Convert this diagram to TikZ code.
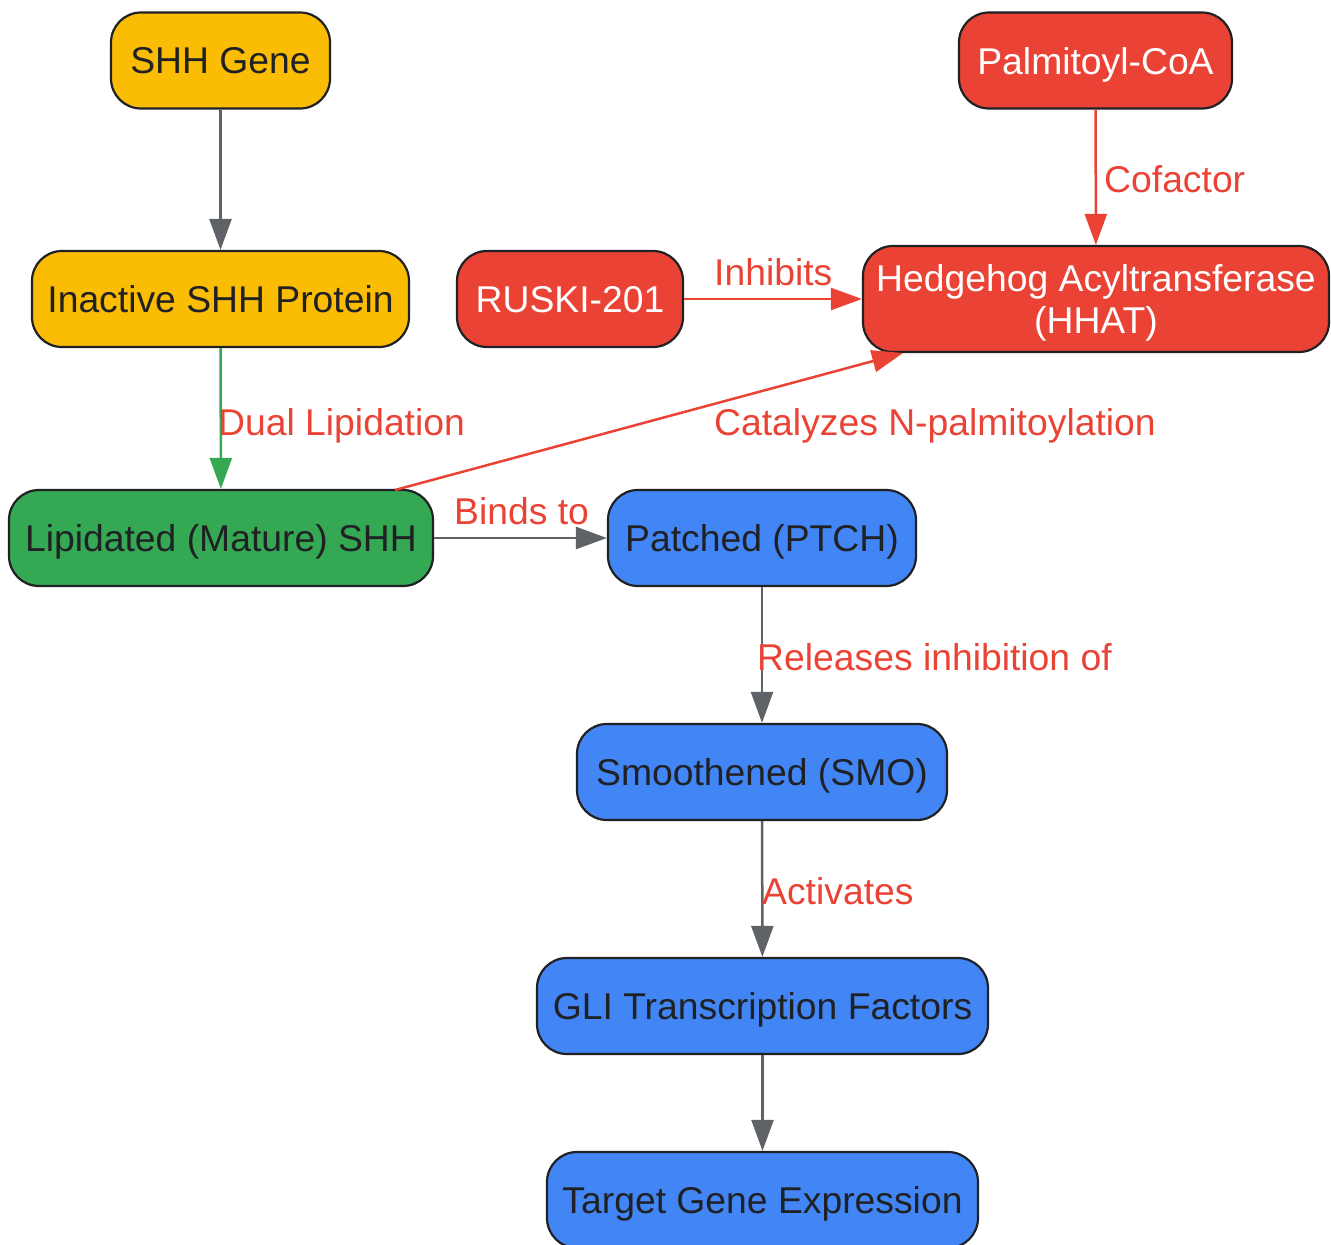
\documentclass[tikz,border=0pt]{standalone}
\usepackage{fontspec}
\setmainfont{Liberation Sans}
\usetikzlibrary{arrows.meta}
\definecolor{cyel}{HTML}{FBBC04}
\definecolor{cred}{HTML}{EA4335}
\definecolor{cgrn}{HTML}{34A853}
\definecolor{cblu}{HTML}{4285F4}
\definecolor{cdark}{HTML}{202124}
\definecolor{cgray}{HTML}{5F6368}
\tikzset{
  box/.style={draw=cdark, line width=2.2pt, rounded corners=30pt, minimum height=96pt, inner sep=0pt, align=center, font=\fontsize{37.3}{42}\selectfont, text=cdark, text depth=0pt},
  ybox/.style={box, fill=cyel},
  rbox/.style={box, fill=cred, text=white},
  gbox/.style={box, fill=cgrn},
  bbox/.style={box, fill=cblu},
  conn/.style={line width=2.5pt, -{Triangle[length=31pt,width=22pt]}},
  lbl/.style={font=\fontsize{37.3}{40}\selectfont, text=cred, inner sep=0pt}
}
\begin{document}
\begin{tikzpicture}[x=1pt,y=-1pt]
\useasboundingbox (0,0) rectangle (1331,1245);
\node[ybox, minimum width=219pt] (gene) at (220.5,60.5) {SHH Gene};
\node[ybox, minimum width=377pt] (inact) at (220.5,299) {Inactive SHH Protein};
\node[rbox, minimum width=273pt] (palm) at (1095.5,60.5) {Palmitoyl-CoA};
\node[rbox, minimum width=226pt] (ruski) at (570,299) {RUSKI-201};
\node[rbox, minimum width=466pt, minimum height=106pt] (hhat) at (1096,299) {Hedgehog Acyltransferase\\(HHAT)};
\node[gbox, minimum width=424pt] (lip) at (221,538) {Lipidated (Mature) SHH};
\node[bbox, minimum width=308pt] (ptch) at (762,538) {Patched (PTCH)};
\node[bbox, minimum width=370pt] (smo) at (762,772) {Smoothened (SMO)};
\node[bbox, minimum width=451pt] (gli) at (762.5,1006) {GLI Transcription Factors};
\node[bbox, minimum width=431pt] (tgt) at (762.5,1200) {Target Gene Expression};

\draw[conn, cgray] (gene) -- (inact);
\draw[conn, cgrn] (inact) -- (lip);
\node[lbl, anchor=west] (l1) at (218,426) {Dual Lipidation};
\draw[conn, cred] (palm) -- (hhat);
\node[lbl, anchor=west] (l2) at (1104,179) {Cofactor};
\draw[conn, cred] (ruski) -- (hhat.west |- ruski);
\node[lbl, anchor=west] (l3) at (714,272) {Inhibits};
\coordinate (cs) at (395,490);
\coordinate (ce) at (903,353);
\draw[conn, cred] (cs) -- (ce);
\node[lbl, anchor=west] (l4) at (714,426) {Catalyzes N-palmitoylation};
\draw[conn, cgray] (lip) -- (ptch);
\node[lbl, anchor=west] (l5) at (454,511) {Binds to};
\draw[conn, cgray] (ptch) -- (smo);
\node[lbl, anchor=west] (l6) at (757,657) {Releases inhibition of};
\draw[conn, cgray] (smo) -- (gli);
\node[lbl, anchor=west] (l7) at (762,891) {Activates};
\draw[conn, cgray] (gli) -- (tgt);
\end{tikzpicture}
\end{document}
